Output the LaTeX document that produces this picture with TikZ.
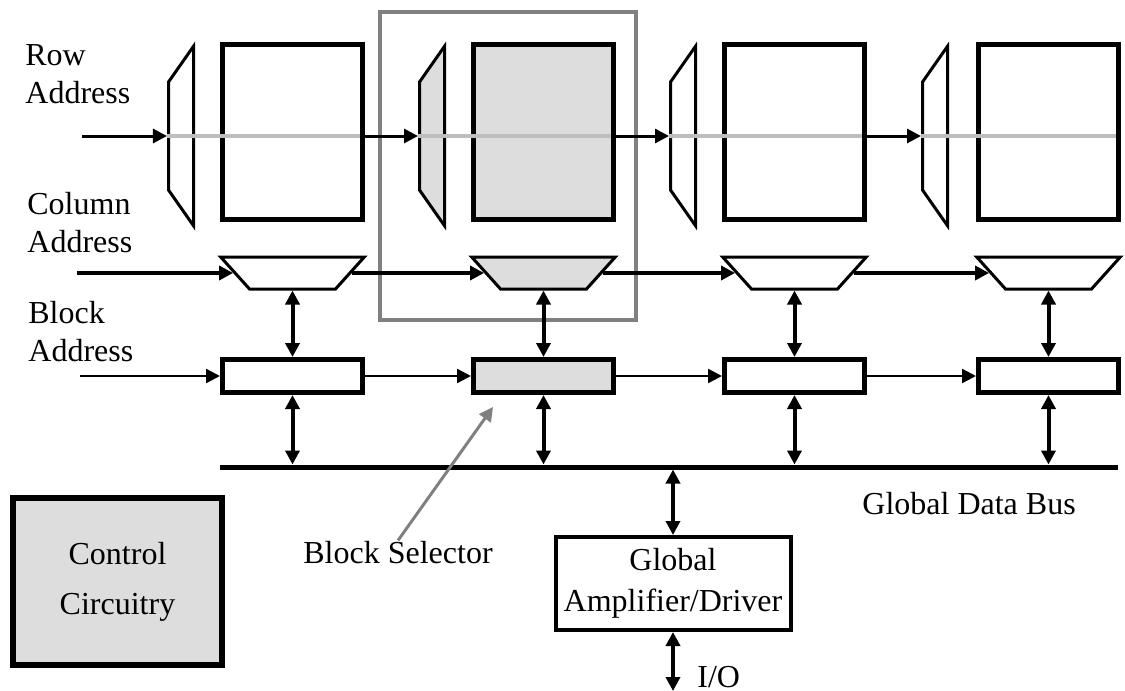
\documentclass[tikz,border=0pt]{standalone}
\usepackage{fontspec}
\setmainfont{Liberation Serif}
\usetikzlibrary{arrows.meta, shapes.geometric}
\definecolor{cellgray}{HTML}{DDDDDD}
\definecolor{linegray}{HTML}{BEBEBE}
\definecolor{framegray}{HTML}{808080}

\begin{document}
\begin{tikzpicture}[x=0.5pt, y=-0.5pt, font=\fontsize{16}{19}\selectfont,
    >={Triangle[length=7pt, width=7pt]},
    memblk/.style={draw, line width=2.5pt, minimum width=70pt, minimum height=87.5pt, inner sep=0pt},
    rowdec/.style={trapezium, draw, line width=1.5pt, rotate=90, trapezium left angle=35, trapezium right angle=35,
      inner xsep=27pt, inner ysep=6.25pt},
    coldec/.style={trapezium, draw, line width=1.5pt, trapezium left angle=132, trapezium right angle=132,
      inner xsep=21.5pt, inner ysep=8pt},
    blksel/.style={draw, line width=2.5pt, minimum width=70pt, minimum height=16.5pt, inner sep=0pt},
    lbl/.style={align=left, inner sep=0pt},
    rowline/.style={linegray, line width=2pt, shorten >=2.5pt},
    link/.style={line width=1.5pt},
    vlink/.style={line width=2pt, <->}]
    \useasboundingbox (0,0) rectangle (1125,691);

    \node[draw=framegray, line width=2pt, minimum width=128pt, minimum height=154pt] (sel) at (508,166) {};

    \node[memblk] (a1) at (292.5,132) {};
    \node[memblk, fill=cellgray] (a2) at (543.5,132) {};
    \node[memblk] (a3) at (794.5,132) {};
    \node[memblk] (a4) at (1048.5,132) {};

    \node[rowdec] (r1) at (181,136) {};
    \node[rowdec, fill=cellgray] (r2) at (432,136) {};
    \node[rowdec] (r3) at (683,136) {};
    \node[rowdec] (r4) at (935,136) {};

    \node[coldec] (c1) at (292.5,273) {};
    \node[coldec, fill=cellgray] (c2) at (543.5,273) {};
    \node[coldec] (c3) at (794.5,273) {};
    \node[coldec] (c4) at (1048.5,273) {};

    \node[blksel] (b1) at (292.5,376) {};
    \node[blksel, fill=cellgray] (b2) at (543.5,376) {};
    \node[blksel] (b3) at (794.5,376) {};
    \node[blksel] (b4) at (1048.5,376) {};

    \node[fill, minimum width=449pt, minimum height=2.5pt, inner sep=0pt, outer sep=0pt] (bus) at (669,467) {};
    \node[draw, line width=3pt, fill=cellgray, minimum width=104.5pt, minimum height=83.5pt, align=center,
      font=\fontsize{16}{25}\selectfont] (ctrl) at (117.5,581.5) {Control\\Circuitry};
    \node[draw, line width=2pt, minimum width=117.5pt, minimum height=46.5pt, inner sep=0pt, align=center,
      font=\fontsize{16}{20.5}\selectfont] (amp) at (673,583.5) {Global\\Amplifier/Driver};

    \node[lbl, anchor=north west] (rowlbl) at (25,44) {Row\\Address};
    \node[lbl, anchor=north west] (collbl) at (27,192) {Column\\Address};
    \node[lbl, anchor=north west] (blklbl) at (28,301) {Block\\Address};
    \node[lbl, anchor=base west] (bsel) at (303,563) {Block Selector};
    \node[lbl, anchor=base west] (buslbl) at (862,514) {Global Data Bus};
    \node[lbl, anchor=base west] (iolbl) at (697,687) {I/O};

    \coordinate (rowin) at (82,136);
    \coordinate (colin) at (77,273);
    \coordinate (blkin) at (80,376);
    \coordinate (bsptr) at (493,407);
    \coordinate (ioend) at (0,691);

    \foreach \i in {1,...,4}
      \draw[rowline] (r\i.north) -- (r\i.north -| a\i.east);
    \draw[link, ->] (rowin) -- (r1.north);
    \foreach \i/\j in {1/2, 2/3, 3/4}
      \draw[link, ->] (r\i.north -| a\i.east) -- (r\j.north);

    \draw[line width=2pt, ->] (colin) -- (colin -| c1.west);
    \foreach \i/\j in {1/2, 2/3, 3/4}
      \draw[line width=2pt, ->] (c\i.east) -- (c\j.west);

    \draw[line width=1.2pt, ->] (blkin) -- (b1.west);
    \foreach \i/\j in {1/2, 2/3, 3/4}
      \draw[line width=1.2pt, ->] (b\i.east) -- (b\j.west);

    \foreach \i in {1,...,4} {
      \draw[vlink] (c\i.south) -- (b\i.north);
      \draw[vlink] (b\i.south) -- (b\i.south |- bus.north);
    }
    \draw[vlink] (amp.north |- bus.south) -- (amp.north);
    \draw[vlink] (amp.south) -- (amp.south |- ioend);
    \draw[framegray, line width=1.5pt, ->] (bsel.north) -- (bsptr);
\end{tikzpicture}
\end{document}
